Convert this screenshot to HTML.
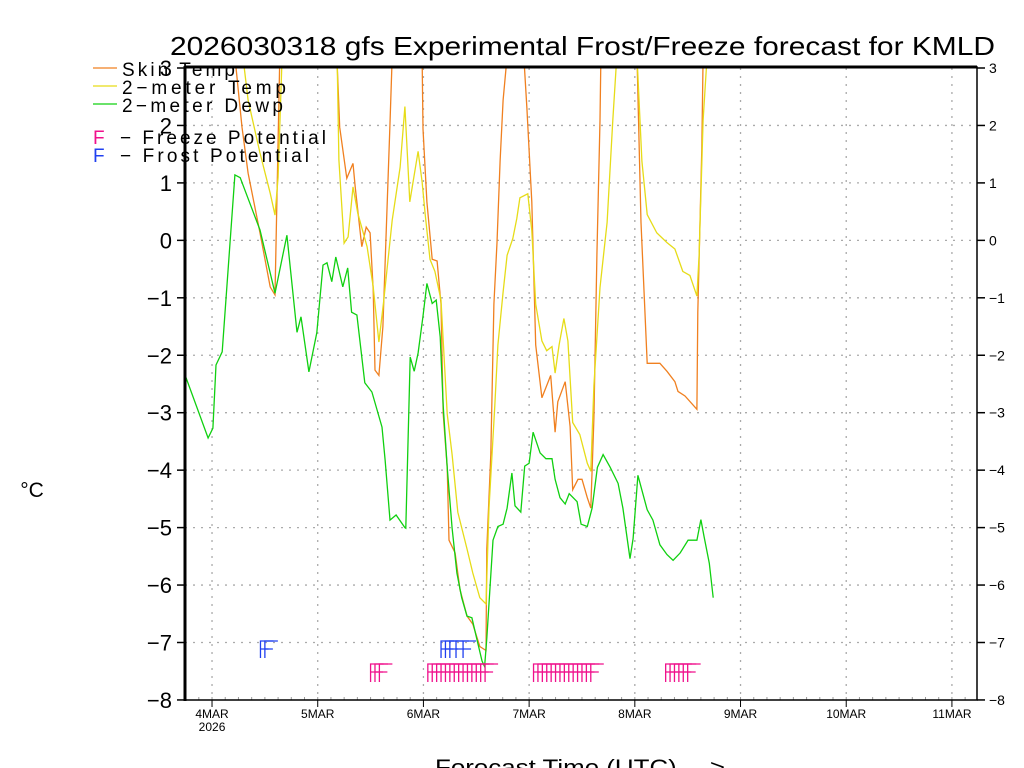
<!DOCTYPE html>
<html><head><meta charset="utf-8"><style>
html,body{margin:0;padding:0;background:#fff;width:1024px;height:768px;overflow:hidden}
svg{display:block}
text{font-family:"Liberation Sans",sans-serif;fill:#000}
</style></head><body>
<svg id="chart" width="1024" height="768">
<defs><clipPath id="plotclip"><rect x="185" y="67" width="792" height="633"/></clipPath></defs>
<g id="grid"></g>
<g id="series" clip-path="url(#plotclip)"></g>
<g id="markers"></g>
<g id="axes"></g>
<text x="170" y="55" font-size="26" textLength="825" lengthAdjust="spacingAndGlyphs">2026030318 gfs Experimental Frost/Freeze forecast for KMLD</text>
<g>
<line x1="93" y1="68" x2="117" y2="68" stroke="#f08020" stroke-width="1.2"/>
<text x="122" y="76" font-size="19" textLength="113" lengthAdjust="spacing">Skin Temp</text>
<line x1="93" y1="86" x2="117" y2="86" stroke="#e6dc18" stroke-width="1.2"/>
<text x="122" y="94" font-size="19" textLength="164" lengthAdjust="spacing">2−meter Temp</text>
<line x1="93" y1="104" x2="117" y2="104" stroke="#10d010" stroke-width="1.2"/>
<text x="122" y="112" font-size="19" textLength="161" lengthAdjust="spacing">2−meter Dewp</text>
<text x="93" y="144" font-size="19" style="fill:#f0108c">F</text>
<text x="120" y="144" font-size="19" textLength="206" lengthAdjust="spacing">−  Freeze Potential</text>
<text x="93" y="162" font-size="19" style="fill:#2040f0">F</text>
<text x="120" y="162" font-size="19" textLength="189" lengthAdjust="spacing">−  Frost Potential</text>
</g>
<text x="32" y="497" font-size="21" text-anchor="middle">°C</text>
<text x="435" y="775" font-size="22" textLength="290" lengthAdjust="spacingAndGlyphs">Forecast Time (UTC) ---&gt;</text>
</svg>
<script>
const yTicks = [3,2,1,0,-1,-2,-3,-4,-5,-6,-7,-8];
const dayLabels = ["4MAR","5MAR","6MAR","7MAR","8MAR","9MAR","10MAR","11MAR"];
const skinHours = [0,11.2,12.8,14.2,16.9,19.2,20.3,21.4,27.8,34.4,35.0,36.6,38.0,38.5,40.0,41.0,41.9,42.6,43.0,43.9,44.8,46.4,46.9,50.3,53.7,53.9,54.8,56.0,57.1,58.0,58.5,59.4,59.8,61.2,62.3,63.9,65.2,66.8,68.2,68.4,69.3,70.0,70.7,71.4,72.1,73.0,74.8,76.8,77.5,78.6,79.5,80.9,82.9,83.9,84.5,86.2,87.3,87.9,89.1,90.0,91.2,92.0,92.7,93.4,94.1,94.3,98.6,102.5,103.4,104.8,107.7,109.3,111.1,111.8,113.4,116.1,116.3,117.2,117.5,118.6];
const skinVals = [3.5,3.2,1.97,1.17,0.13,-0.81,-0.95,3.2,4,3.1,1.97,1.08,1.34,0.93,-0.11,0.23,0.13,-0.86,-2.26,-2.35,-1.5,2.04,3.2,4,3.2,1.94,0.67,-0.33,-0.36,-1.11,-3.02,-3.95,-5.22,-5.44,-6.08,-6.54,-6.68,-7.07,-7.14,-5.37,-3.73,-1.11,-0.04,1.38,2.44,3.2,4,3.2,2.3,0.67,-1.82,-2.74,-2.35,-3.34,-2.81,-2.46,-3.24,-4.34,-4.16,-4.16,-4.48,-4.66,-3.1,-0.26,2.09,3.2,4,3.2,0.31,-2.14,-2.14,-2.28,-2.46,-2.63,-2.71,-2.94,-1.25,1.59,3.2,4];
const tempHours = [0,13.0,14.2,16.9,19.2,20.3,21.0,21.9,28.3,34.4,34.8,36.0,36.9,38.0,39.1,41.2,42.6,43.9,45.0,46.9,48.7,49.8,50.9,52.8,53.7,54.4,55.5,56.6,58.0,59.4,60.5,61.8,63.9,65.2,66.8,68.2,68.9,70.2,70.9,72.1,73.0,74.3,75.2,75.9,77.7,78.6,79.5,80.9,82.0,83.2,83.9,84.8,85.9,86.8,87.9,89.5,91.2,92.0,92.7,94.1,95.7,97.0,97.9,100.2,102.5,103.6,104.8,107.0,109.3,111.1,112.9,114.5,116.1,116.6,117.5,118.4];
const tempVals = [3.5,3.2,2.44,1.52,0.82,0.44,1.1,3.2,4,3.2,1.4,-0.05,0.06,0.93,0.47,-0.11,-0.81,-1.77,-1.04,0.35,1.27,2.33,0.67,1.55,1.02,0.45,-0.33,-0.54,-1.04,-3.02,-3.73,-4.73,-5.37,-5.79,-6.22,-6.33,-4.66,-2.88,-1.82,-0.9,-0.26,0.03,0.38,0.74,0.81,0.17,-1.11,-1.75,-1.92,-1.85,-2.31,-1.82,-1.36,-1.75,-3.17,-3.38,-3.88,-4.02,-2.53,-0.82,0.31,2.09,3.2,4,3.2,1.38,0.45,0.13,-0.04,-0.15,-0.54,-0.61,-0.97,-0.26,2.09,3.2];
const dewpHours = [0,5.1,6.2,6.9,8.3,11.2,12.4,16.9,20.3,23.0,25.3,26.2,28.0,29.8,31.2,32.1,33.2,34.1,35.7,36.8,37.7,38.9,40.7,42.3,44.6,45.3,46.4,47.8,49.8,50.0,51.0,51.9,52.8,53.9,54.8,56.0,56.9,57.8,58.5,59.4,60.5,61.6,62.7,63.9,65.0,66.1,67.3,67.9,68.4,69.8,70.9,72.1,73.0,74.1,74.8,76.1,77.0,78.0,78.9,80.5,81.8,83.2,83.9,85.0,86.2,87.1,88.9,89.8,91.2,92.3,93.5,94.8,96.4,98.2,99.3,100.9,101.6,102.7,104.8,106.1,107.7,109.3,110.7,112.3,114.1,116.1,117.0,117.7,118.9,119.8];
const dewpVals = [-2.37,-3.44,-3.27,-2.17,-1.94,1.14,1.09,0.18,-0.92,0.09,-1.6,-1.33,-2.29,-1.61,-0.43,-0.39,-0.72,-0.29,-0.81,-0.48,-1.25,-1.3,-2.48,-2.64,-3.25,-3.82,-4.87,-4.78,-5.0,-5.01,-2.03,-2.28,-1.96,-1.32,-0.75,-1.1,-1.04,-1.68,-2.88,-3.95,-5.01,-5.79,-6.22,-6.54,-6.57,-6.93,-7.32,-7.42,-6.93,-5.22,-4.98,-4.94,-4.66,-4.05,-4.62,-4.73,-3.93,-3.88,-3.34,-3.7,-3.8,-3.8,-4.16,-4.48,-4.59,-4.41,-4.55,-4.94,-4.98,-4.66,-3.95,-3.73,-3.95,-4.23,-4.66,-5.54,-5.19,-4.09,-4.69,-4.87,-5.3,-5.47,-5.57,-5.44,-5.22,-5.22,-4.86,-5.15,-5.62,-6.22];
const freezeHours = [42,43,44,55,56,57,58,59,60,61,62,63,64,65,66,67,68,79,80,81,82,83,84,85,86,87,88,89,90,91,92,109,110,111,112,113,114];
const frostHours = [17,18,58,59,60,61.4,63];

const NS = "http://www.w3.org/2000/svg";
const X0 = 185.6, PXH = 105.7/24, YTOP = 68, PXV = 57.45;
function xs(h){return X0 + h*PXH;}
function ys(v){return YTOP + (3 - v)*PXV;}
function mk(tag, attrs, parent){const e=document.createElementNS(NS,tag);for(const k in attrs)e.setAttribute(k,attrs[k]);parent.appendChild(e);return e;}
const grid=document.getElementById('grid'), axes=document.getElementById('axes'), series=document.getElementById('series'), markers=document.getElementById('markers');

yTicks.forEach(v=>{
  const y=ys(v);
  if(v<3 && v>-8){
    const g=mk('line',{x1:185,x2:977,y1:y,y2:y,stroke:'#aaa','stroke-width':1.3,'stroke-dasharray':'2 6'},grid);
    
    
  }
  const t1=mk('line',{x1:177,x2:185,y1:y,y2:y,stroke:'#000','stroke-width':1.5},axes);
  
  
  const t2=mk('line',{x1:977,x2:985,y1:y,y2:y,stroke:'#000','stroke-width':1.5},axes);
  
  
  const l=mk('text',{x:172,y:y+8,'font-size':22,'text-anchor':'end'},axes);
  l.textContent = v<0 ? '−'+Math.abs(v) : String(v);
  
  
  const r=mk('text',{x:989,y:y+5,'font-size':14},axes);
  r.textContent = v<0 ? '−'+Math.abs(v) : String(v);
  
  
});
dayLabels.forEach((d,i)=>{
  const x=xs(6+24*i);
  const g=mk('line',{x1:x,x2:x,y1:68,y2:700,stroke:'#aaa','stroke-width':1.3,'stroke-dasharray':'2 6'},grid);
  
  
  const t=mk('line',{x1:x,x2:x,y1:700,y2:707,stroke:'#000','stroke-width':1},axes);
  
  
  const l=mk('text',{x:x,y:718,'font-size':12,'text-anchor':'middle'},axes);
  l.textContent=d;
  
  
});
const yr=mk('text',{x:xs(6),y:731,'font-size':12,'text-anchor':'middle'},axes);
yr.textContent='2026';


for(let h=0;h<=180;h+=3){const x=xs(h); if(x>977)break;
  const m=mk('line',{x1:x,x2:x,y1:697,y2:700,stroke:'#999','stroke-width':1},axes);
  
  
}
const fr=mk('path',{d:'M185,67 H977 V700 H185 Z',fill:'none',stroke:'#000','stroke-width':1.5},axes);


const la=mk('line',{x1:185,x2:185,y1:66,y2:701,stroke:'#000','stroke-width':3},axes);


const ta=mk('line',{x1:185,x2:977,y1:67,y2:67,stroke:'#000','stroke-width':3},axes);



function line(hours, vals, color, name){
  const d=hours.map((h,i)=>(i?'L':'M')+xs(h).toFixed(1)+','+ys(vals[i]).toFixed(1)).join(' ');
  const p=mk('path',{d:d,fill:'none',stroke:color,'stroke-width':1.3},series);
  
  
}
line(skinHours, skinVals, '#f08020', 'skin-temp-line');
line(tempHours, tempVals, '#e6dc18', '2m-temp-line');
line(dewpHours, dewpVals, '#10d010', '2m-dewp-line');

function fmark(h, top, mid, bot, color, name){
  const x=xs(h);
  const p=mk('path',{d:`M${x},${bot} V${top} H${x+13} M${x},${mid} H${x+8}`,fill:'none',stroke:color,'stroke-width':1.3},markers);
  
  
}
freezeHours.forEach(h=>fmark(h,664,672,682,'#f0108c','freeze-marker'));
frostHours.forEach(h=>fmark(h,641,649,658,'#2040f0','frost-marker'));
</script>
</body></html>
